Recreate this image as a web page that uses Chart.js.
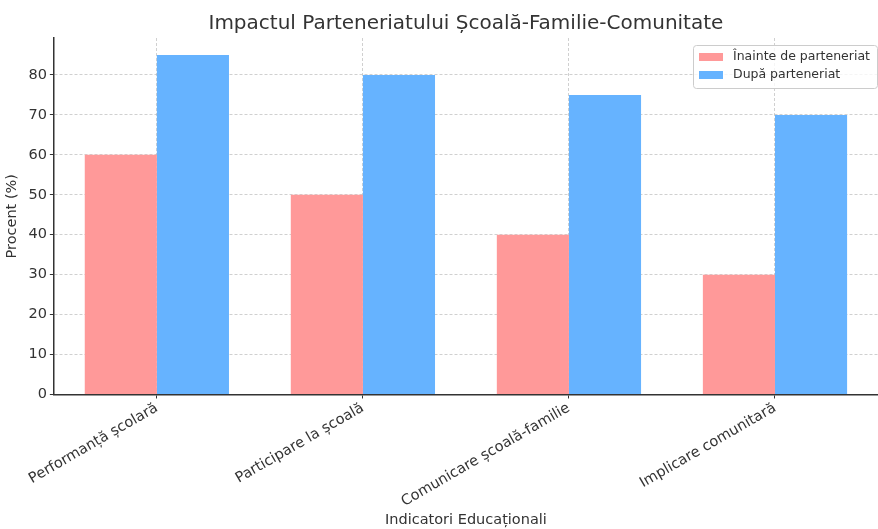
<!DOCTYPE html>
<html>
<head>
<meta charset="utf-8">
<script src="https://cdn.jsdelivr.net/npm/chart.js@4"></script>
<style>
  html, body { margin: 0; padding: 0; background: #fff; overflow: hidden; }
  #wrap { width: 878px; height: 529px; }
</style>
</head>
<body>
<div id="wrap"><canvas id="grafic"></canvas></div>
<script>
'use strict';
const CATEGORII = ['Performanță școlară', 'Participare la școală', 'Comunicare școală-familie', 'Implicare comunitară']
const INAINTE = [60, 50, 40, 30]
const DUPA = [85, 80, 75, 70]
const Y_TICKS = [0, 10, 20, 30, 40, 50, 60, 70, 80]

const ROSU = '#ff9999'
const ALBASTRU = '#66b3ff'
const TEXT = '#333333'
const GRILA = 'rgba(176,176,176,0.6)'

Chart.defaults.font.family = 'DejaVu Sans'
Chart.defaults.color = TEXT

// legenda desenata de mana, in coltul din dreapta sus al zonei graficului
const legendaMea = {
    id: 'legendaMea',
    afterDraw(chart) {
        const c = chart.ctx
        const a = chart.chartArea
        const w = 184, h = 43
        const x = a.right - w - 1, y = a.top + 7
        c.save()
        c.fillStyle = 'rgba(255,255,255,0.8)'
        c.strokeStyle = '#cccccc'
        c.lineWidth = 1
        c.beginPath()
        c.roundRect(x + 0.5, y + 0.5, w, h, 3)
        c.fill()
        c.stroke()
        c.font = '12.5px "DejaVu Sans"'
        c.textBaseline = 'middle'
        chart.data.datasets.forEach(function (ds, i) {
            const ly = y + 12 + i * 18
            c.fillStyle = ds.backgroundColor
            c.fillRect(x + 6, ly - 4, 24, 8)
            c.fillStyle = TEXT
            c.fillText(ds.label, x + 40, ly)
        })
        c.restore()
    }
}

const ctx = document.getElementById('grafic').getContext('2d')
const chart = new Chart(ctx, {
    type: 'bar',
    data: {
        labels: CATEGORII,
        datasets: [{
            label: 'Înainte de parteneriat',
            data: INAINTE,
            backgroundColor: ROSU,
            categoryPercentage: 0.7,
            barPercentage: 1.0,
        }, {
            label: 'După parteneriat',
            data: DUPA,
            backgroundColor: ALBASTRU,
            categoryPercentage: 0.7,
            barPercentage: 1.0,
        }]
    },
    options: {
        responsive: true,
        maintainAspectRatio: false,
        animation: false,
        layout: { padding: { left: 4, right: 0, top: 12, bottom: 0 } },
        plugins: {
            title: {
                display: true,
                text: 'Impactul Parteneriatului Școală-Familie-Comunitate',
                fullSize: false,
                font: { size: 20, weight: 'normal' },
                color: TEXT,
                padding: { top: 0, bottom: 2 }
            },
            legend: { display: false },
            tooltip: { enabled: false }
        },
        scales: {
            x: {
                grid: {
                    offset: false,
                    color: GRILA,
                    tickColor: TEXT,
                    tickLength: 4
                },
                border: { display: true, color: TEXT, width: 1.5, dash: [3, 2] },
                ticks: {
                    minRotation: 30,
                    maxRotation: 30,
                    font: { size: 14.5 },
                    color: TEXT,
                    padding: 1
                },
                title: {
                    display: true,
                    text: 'Indicatori Educaționali',
                    font: { size: 14.5 },
                    color: TEXT,
                    padding: { top: 0, bottom: 0 }
                }
            },
            y: {
                min: 0,
                max: 89.25,
                afterBuildTicks(axis) {
                    axis.ticks = Y_TICKS.map(v => ({ value: v }))
                },
                grid: {
                    color: GRILA,
                    tickColor: TEXT,
                    tickLength: 4,
                },
                border: { display: true, color: TEXT, width: 1.5, dash: [3, 2] },
                ticks: {
                    font: { size: 14.5 },
                    color: TEXT,
                    padding: 3
                },
                title: {
                    display: true,
                    text: 'Procent (%)',
                    font: { size: 14.5 },
                    color: TEXT,
                    padding: { top: 0, bottom: 4 }
                }
            }
        }
    },
    plugins: [legendaMea]
});
</script>
</body>
</html>
